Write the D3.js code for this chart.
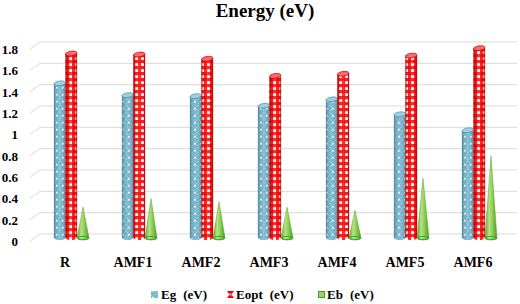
<!DOCTYPE html>
<html>
<head>
<meta charset="utf-8">
<script src="https://cdn.jsdelivr.net/npm/d3@7/dist/d3.min.js"></script>
<style>
  html, body { margin: 0; padding: 0; background: #fff; }
  svg { display: block; }
</style>
</head>
<body>
<svg id="chart" width="520" height="304" font-family="'Liberation Serif', 'Times New Roman', Times, serif" font-weight="bold"></svg>
<script>
const categories = ["R", "AMF1", "AMF2", "AMF3", "AMF4", "AMF5", "AMF6"];
const egValues   = [1.45, 1.34, 1.33, 1.24, 1.30, 1.16, 1.01];
const eoptValues = [1.73, 1.72, 1.68, 1.52, 1.54, 1.71, 1.78];
const ebValues   = [0.29, 0.37, 0.34, 0.29, 0.26, 0.56, 0.77];
const yTicks = [0, 0.2, 0.4, 0.6, 0.8, 1, 1.2, 1.4, 1.6, 1.8];
const seriesNames = ["Eg", "Eopt", "Eb"];
const unitLabel = "(eV)";
const titleText = "Energy (eV)";

const svg = d3.select("#chart");
const defs = svg.append("defs");

// Blue dotted pattern
const pb = defs.append("pattern").attr("id", "pBlue").attr("patternUnits", "userSpaceOnUse")
  .attr("width", 6).attr("height", 7);
pb.append("rect").attr("width", 6).attr("height", 7).attr("fill", "#7ab8d0");
pb.append("path").attr("d", "M0,0L6,6M0,6L6,0").attr("stroke", "#a3d2e3").attr("stroke-width", 0.6);
pb.append("rect").attr("x", 2).attr("y", 3).attr("width", 1.6).attr("height", 1.6).attr("fill", "#ffffff");

// Red gingham pattern
const pr = defs.append("pattern").attr("id", "pRed").attr("patternUnits", "userSpaceOnUse")
  .attr("width", 6).attr("height", 6);
pr.append("rect").attr("width", 6).attr("height", 6).attr("fill", "#ffffff");
pr.append("rect").attr("x", 0).attr("y", 0).attr("width", 3.2).attr("height", 6).attr("fill", "#ff0000").attr("opacity", 0.85);
pr.append("rect").attr("x", 0).attr("y", 0).attr("width", 6).attr("height", 3.2).attr("fill", "#ff0000").attr("opacity", 0.85);

// Cylinder shading
const sh = defs.append("linearGradient").attr("id", "shade").attr("x1", 0).attr("x2", 1).attr("y1", 0).attr("y2", 0);
[[0, "#000", 0.25], [0.25, "#000", 0.04], [0.5, "#fff", 0.1], [0.75, "#000", 0.02], [1, "#000", 0.25]]
  .forEach(([o, c, a]) => sh.append("stop").attr("offset", o).attr("stop-color", c).attr("stop-opacity", a));

// Green cone gradient
const gg = defs.append("linearGradient").attr("id", "gGreen").attr("x1", 0).attr("x2", 1).attr("y1", 0).attr("y2", 0);
[[0, "#5aa52c"], [0.35, "#b5e486"], [0.6, "#8fd055"], [1, "#4e9a22"]]
  .forEach(([o, c]) => gg.append("stop").attr("offset", o).attr("stop-color", c));

const floorY = 238;
const x = d3.scaleBand().domain(categories).range([31, 507]).paddingInner(0).paddingOuter(0);
const y = d3.scaleLinear().domain([0, 1.8]).range([234, 42]);
const yBar = v => y(v) + 4;

// Gridlines (3D wall + floor edge)
const grid = svg.append("g");
yTicks.forEach(t => {
  const yb = y(t);
  grid.append("path")
    .attr("d", `M30,${yb + 7}L40,${yb}L517,${yb}`)
    .attr("fill", "none").attr("stroke", "#d9d9d9").attr("stroke-width", 1);
});

// Y labels
svg.append("g").selectAll("text").data(yTicks).join("text")
  .attr("x", 18).attr("y", d => y(d) + 12)
  .attr("text-anchor", "end").attr("font-size", 13)
  .text(d => d3.format("")(d));

// Title
svg.append("text").attr("x", 265).attr("y", 17).attr("text-anchor", "middle")
  .attr("font-size", 19).text(titleText);

// Category labels
svg.append("g").selectAll("text").data(categories).join("text")
  .attr("x", d => x(d) + x.bandwidth() / 2).attr("y", 267)
  .attr("text-anchor", "middle").attr("font-size", 14).text(d => d);

const bw = 11.5;
function cylinder(g, cx, v, fillId, edge, topFill) {
  const top = yBar(v);
  const x0 = cx - bw / 2;
  g.append("ellipse").attr("cx", cx).attr("cy", floorY).attr("rx", bw / 2).attr("ry", 2)
    .attr("fill", `url(#${fillId})`);
  g.append("rect").attr("x", x0).attr("y", top).attr("width", bw).attr("height", floorY - top)
    .attr("fill", `url(#${fillId})`);
  g.append("rect").attr("x", x0).attr("y", top).attr("width", bw).attr("height", floorY - top)
    .attr("fill", "url(#shade)");
  g.append("line").attr("x1", x0 + 0.3).attr("x2", x0 + 0.3).attr("y1", top).attr("y2", floorY)
    .attr("stroke", edge).attr("stroke-width", 0.7);
  g.append("line").attr("x1", x0 + bw - 0.3).attr("x2", x0 + bw - 0.3).attr("y1", top).attr("y2", floorY)
    .attr("stroke", edge).attr("stroke-width", 0.7);
  g.append("ellipse").attr("cx", cx).attr("cy", top).attr("rx", bw / 2).attr("ry", 2.3)
    .attr("transform", `rotate(-8 ${cx} ${top})`)
    .attr("fill", topFill).attr("stroke", edge).attr("stroke-width", 0.7);
}

function cone(g, cx, v) {
  const apex = yBar(v);
  const r = 6;
  g.append("path")
    .attr("d", `M${cx - r},${floorY}L${cx},${apex}L${cx + r},${floorY}A${r},2 0 0 1 ${cx - r},${floorY}Z`)
    .attr("fill", "url(#gGreen)").attr("stroke", "#5ca52e").attr("stroke-width", 0.5);
  g.append("ellipse").attr("cx", cx).attr("cy", floorY).attr("rx", r).attr("ry", 1.6)
    .attr("fill", "none").attr("stroke", "#3aa53a").attr("stroke-width", 1);
}

const bars = svg.append("g");
categories.forEach((c, i) => {
  const cx = x(c) + x.bandwidth() / 2;
  const g = bars.append("g");
  cylinder(g, cx - 11 + bw / 2, egValues[i], "pBlue", "#4d8fa8", "#9fd0e2");
  cylinder(g, cx + 0.5 + bw / 2, eoptValues[i], "pRed", "#d00000", "#ff6a6a");
  cone(g, cx + 18, ebValues[i]);
});

// Legend
const leg = svg.append("g");
const legItems = [
  { name: seriesNames[0], mx: 151, tx: 161 },
  { name: seriesNames[1], mx: 227, tx: 236 },
  { name: seriesNames[2], mx: 318, tx: 327 }
];
const ly = 295;
leg.append("rect").attr("x", legItems[0].mx).attr("y", ly - 4).attr("width", 7).attr("height", 7)
  .attr("fill", "url(#pBlue)");
leg.append("path")
  .attr("d", `M${legItems[1].mx},${ly - 4}L${legItems[1].mx + 7},${ly - 4}L${legItems[1].mx + 4.5},${ly - 0.5}L${legItems[1].mx + 7},${ly + 3}L${legItems[1].mx},${ly + 3}L${legItems[1].mx + 2.5},${ly - 0.5}Z`)
  .attr("fill", "#ff0000");
leg.append("rect").attr("x", legItems[1].mx + 2.5).attr("y", ly - 1.5).attr("width", 2).attr("height", 2).attr("fill", "#ffb0b0");
leg.append("rect").attr("x", legItems[2].mx + 0.5).attr("y", ly - 3.5).attr("width", 6).attr("height", 6)
  .attr("fill", "#9bd66b").attr("stroke", "#3f9a2a").attr("stroke-width", 1);

legItems.forEach(it => {
  const t = leg.append("text").attr("x", it.tx).attr("y", ly + 4).attr("font-size", 13);
  t.append("tspan").text(it.name);
  t.append("tspan").attr("dx", 7).text(unitLabel);
});
</script>
</body>
</html>
